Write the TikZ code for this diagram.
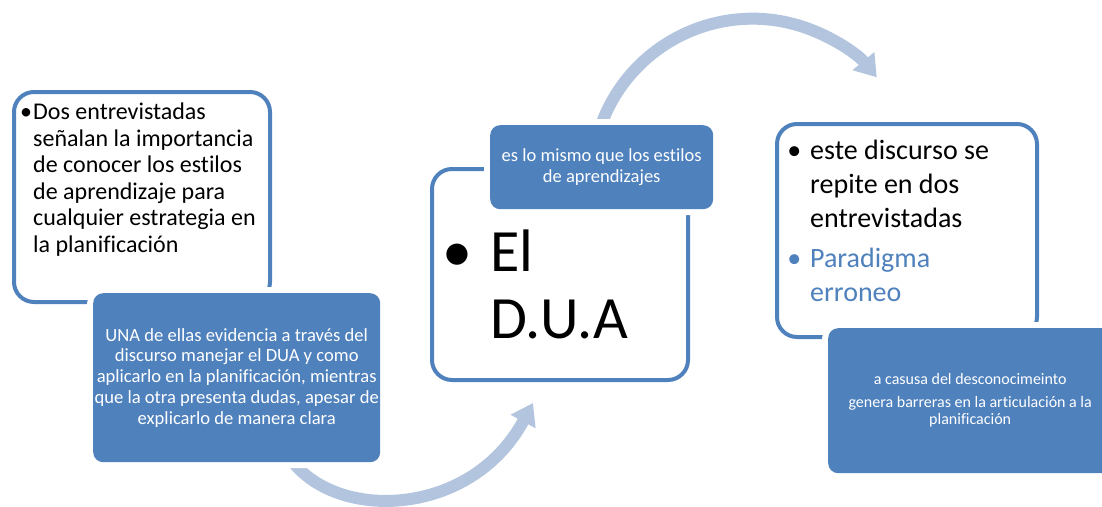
\documentclass[tikz,border=0pt]{standalone}
\usepackage{fontspec}
\setmainfont{Carlito}[Ligatures=NoCommon]
\usetikzlibrary{arrows.meta}
\definecolor{duablue}{HTML}{4F81BD}
\definecolor{flowblue}{HTML}{B3C4DE}
\begin{document}
\begin{tikzpicture}%
[x=1pt,y=-1pt,%
whitebox/.style={draw=duablue, line width=4pt, fill=white, rounded corners=20pt, inner sep=0pt, anchor=north west},%
bluebox/.style={fill=duablue, rounded corners=10pt, inner sep=0pt, anchor=north west, text=white, align=center, preaction={draw=white, line width=12pt}},%
flow/.style={draw=flowblue, line width=12pt, -{Triangle[width=27pt,length=21pt]}},%
txt/.style={inner sep=0pt, anchor=north west, align=left}]
\useasboundingbox (0,0) rectangle (1102,506);
\coordinate (s1) at (288,455);
\coordinate (e1) at (533,403);
\coordinate (s2) at (600.3,127.3);
\draw[flow] (s1) .. controls (330,522) and (470,520) .. (e1);
\draw[flow] (s2) arc[start angle=-161, end angle=-39.5, radius=161];
\node[whitebox, minimum width=256pt, minimum height=210pt] (w1) at (12,90) {};
\node[whitebox, minimum width=256pt, minimum height=211pt] (w2) at (430,167) {};
\node[whitebox, minimum width=260pt, minimum height=213pt] (w3) at (775,122) {};
\node[txt, font=\fontsize{24}{26.5}\selectfont] (t1) at (33,103)
  {\llap{•\hskip1pt}Dos entrevistadas\\señalan la importancia\\de conocer los estilos\\de aprendizaje para\\cualquier estrategia en\\la planificación};
\node[txt, font=\fontsize{60}{67}\selectfont] (t2) at (490,230)
  {\llap{•\hskip18pt}El\\D.U.A};
\node[txt, font=\fontsize{28}{34}\selectfont] (t3) at (810,140)
  {\llap{•\hskip9pt}este discurso se\\repite en dos\\entrevistadas\\[6pt]\color{duablue}\llap{•\hskip9pt}Paradigma\\\color{duablue}erroneo};
\node[bluebox, minimum width=287pt, minimum height=169pt, font=\fontsize{18.6}{20.8}\selectfont] (b1) at (93,293)
  {UNA de ellas evidencia a través del\\discurso manejar el DUA y como\\aplicarlo en la planificación, mientras\\que la otra presenta dudas, apesar de\\explicarlo de manera clara};
\node[bluebox, minimum width=223pt, minimum height=84pt, font=\fontsize{18.5}{21}\selectfont] (b2) at (490,125)
  {es lo mismo que los estilos\\de aprendizajes};
\node[bluebox, minimum width=284pt, minimum height=145pt, font=\fontsize{16}{17}\selectfont] (b3) at (828,328)
  {a casusa del desconocimeinto\\[6pt]genera barreras en la articulación a la\\planificación};
\end{tikzpicture}
\end{document}
